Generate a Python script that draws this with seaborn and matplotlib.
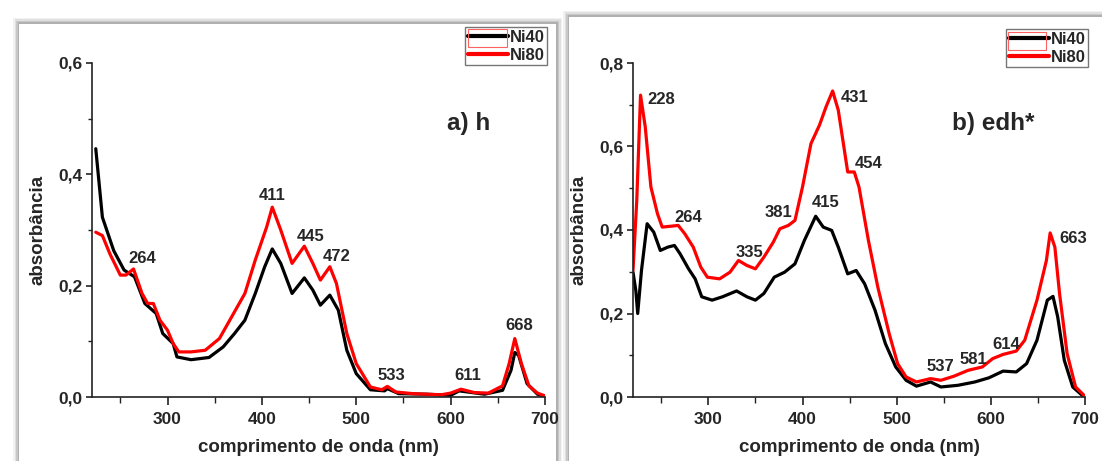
import numpy as np
import pandas as pd
import matplotlib
matplotlib.use("Agg")
import matplotlib.pyplot as plt
from matplotlib.patches import Rectangle
from matplotlib.ticker import MultipleLocator, FuncFormatter
import seaborn as sns

# ---------------- data: panel a) h ----------------
a_ni40_x = [224, 231, 243, 254, 265, 276, 288, 295, 306, 310, 325, 344, 359, 371, 382, 393, 403, 411,
            420, 432, 445, 454, 462, 472, 481, 490, 500, 515, 530, 533, 545, 575, 600, 609, 636, 655,
            664, 668, 672, 681, 692, 700]
a_ni40_y = [0.446, 0.323, 0.263, 0.228, 0.216, 0.168, 0.150, 0.114, 0.096, 0.072, 0.067, 0.071, 0.090,
            0.114, 0.138, 0.186, 0.234, 0.266, 0.240, 0.186, 0.214, 0.192, 0.165, 0.183, 0.156, 0.084,
            0.042, 0.013, 0.011, 0.015, 0.006, 0.005, 0.003, 0.011, 0.005, 0.012, 0.048, 0.080, 0.075,
            0.024, 0.005, 0.001]
a_ni80_x = [224, 231, 239, 250, 256, 264, 273, 279, 285, 292, 300, 306, 312, 325, 340, 355, 371, 382,
            393, 405, 411, 420, 432, 445, 454, 462, 472, 479, 490, 500, 515, 527, 533, 542, 560, 590,
            600, 611, 625, 640, 655, 662, 668, 675, 683, 692, 700]
a_ni80_y = [0.296, 0.290, 0.257, 0.219, 0.219, 0.230, 0.186, 0.168, 0.168, 0.138, 0.120, 0.096, 0.081,
            0.081, 0.084, 0.105, 0.153, 0.186, 0.246, 0.305, 0.341, 0.300, 0.240, 0.271, 0.240, 0.210,
            0.234, 0.204, 0.114, 0.060, 0.018, 0.013, 0.019, 0.009, 0.006, 0.004, 0.007, 0.014, 0.008,
            0.007, 0.020, 0.060, 0.105, 0.060, 0.020, 0.007, 0.002]

# ---------------- data: panel b) edh* ----------------
b_ni40_x = [220, 223, 225, 229, 235, 242, 249, 257, 264, 270, 279, 286, 293, 304, 315, 330, 341, 350,
            359, 370, 381, 392, 402, 414, 422, 431, 438, 448, 457, 466, 477, 488, 499, 510, 521, 536,
            547, 565, 583, 598, 613, 627, 638, 649, 660, 666, 671, 678, 687, 697]
b_ni40_y = [0.299, 0.255, 0.200, 0.303, 0.415, 0.395, 0.351, 0.359, 0.363, 0.343, 0.307, 0.283, 0.240,
            0.232, 0.240, 0.254, 0.240, 0.232, 0.248, 0.287, 0.299, 0.319, 0.375, 0.433, 0.407, 0.399,
            0.359, 0.295, 0.303, 0.271, 0.208, 0.128, 0.072, 0.040, 0.026, 0.036, 0.024, 0.028, 0.036,
            0.046, 0.062, 0.060, 0.080, 0.136, 0.232, 0.241, 0.192, 0.088, 0.024, 0.004]
b_ni80_x = [220, 224, 228, 233, 239, 246, 251, 260, 268, 275, 284, 292, 299, 312, 323, 332, 341, 350,
            359, 369, 376, 385, 392, 400, 409, 418, 425, 432, 438, 448, 455, 460, 470, 480, 492, 501,
            510, 521, 536, 547, 561, 576, 591, 602, 613, 627, 636, 649, 659, 663, 668, 673, 681, 690, 699]
b_ni80_y = [0.303, 0.471, 0.723, 0.647, 0.503, 0.439, 0.407, 0.409, 0.411, 0.391, 0.359, 0.311, 0.287,
            0.283, 0.299, 0.327, 0.315, 0.307, 0.335, 0.371, 0.403, 0.411, 0.423, 0.503, 0.607, 0.651,
            0.695, 0.733, 0.687, 0.539, 0.539, 0.503, 0.375, 0.263, 0.152, 0.080, 0.048, 0.036, 0.044,
            0.040, 0.050, 0.064, 0.072, 0.092, 0.102, 0.110, 0.136, 0.232, 0.327, 0.393, 0.359, 0.247,
            0.104, 0.024, 0.004]

series_names = ["Ni40", "Ni80"]
series_colors = ["#000000", "#ff0000"]

a_peak_labels = ["264", "411", "445", "472", "533", "611", "668"]
a_peak_pos = [(273, 0.249), (411, 0.362), (452, 0.289), (479, 0.252), (537, 0.039), (618, 0.038), (673, 0.129)]
b_peak_labels = ["228", "264", "335", "381", "415", "431", "454", "537", "581", "614", "663"]
b_peak_pos = [(250, 0.712), (279, 0.430), (344, 0.347), (374, 0.443), (425, 0.467), (455, 0.717),
              (470, 0.559), (546, 0.072), (582, 0.089), (616, 0.125), (687, 0.379)]

x_label = "comprimento de onda (nm)"
y_label = "absorbância"

sns.set_style("ticks")
plt.rcParams['font.family'] = ['Liberation Sans', 'DejaVu Sans']
plt.rcParams['font.weight'] = 'bold'

fig = plt.figure(figsize=(11.02, 4.61), dpi=100)
fig.patch.set_facecolor("white")

W, H = 1102, 461

def frame(x0, y0, x1, y1):
    for i, a in enumerate([0.10, 0.16, 0.24, 0.32]):
        d = 6 - i * 1.5
        fig.patches.append(Rectangle(((x0 - d) / W, 1 - (y0 - d) / H - (y1 - y0 + d) / H),
                                     (x1 - x0 + 2 * d) / W, (y1 - y0 + d) / H,
                                     transform=fig.transFigure, facecolor="#808080",
                                     alpha=a, edgecolor="none", zorder=-3))
    fig.patches.append(Rectangle((x0 / W, 1 - y1 / H), (x1 - x0) / W, (y1 - y0) / H,
                                 transform=fig.transFigure, facecolor="white",
                                 edgecolor="none", zorder=-2))

frame(19, 24, 556, 470)
frame(569, 17, 1110, 470)

ax1 = fig.add_axes([92 / W, 1 - 397 / H, (545 - 92) / W, (397 - 63) / H])
ax2 = fig.add_axes([633 / W, 1 - 397 / H, (1085 - 633) / W, (397 - 63) / H])

def draw(ax, xs, ys, ylim, labels, positions, title, title_pos, leg_anchor, red_box):
    for (x, y), name, col in zip(zip(xs, ys), series_names, series_colors):
        df = pd.DataFrame({"x": x, "y": y})
        sns.lineplot(data=df, x="x", y="y", ax=ax, color=col, linewidth=2.3, label=name)
    ax.set_xlim(220, 700)
    ax.set_ylim(*ylim)
    ax.patch.set_alpha(0)
    sns.despine(ax=ax)
    for s in ["left", "bottom"]:
        ax.spines[s].set_linewidth(1.2)
        ax.spines[s].set_color("#222222")
    ax.xaxis.set_major_locator(MultipleLocator(100))
    ax.xaxis.set_minor_locator(MultipleLocator(50))
    ax.yaxis.set_major_locator(MultipleLocator(0.2))
    ax.yaxis.set_minor_locator(MultipleLocator(0.1))
    ax.yaxis.set_major_formatter(FuncFormatter(lambda v, p: f"{v:.1f}".replace(".", ",")))
    ax.tick_params(axis="x", which="major", length=5.5, width=1.2, pad=5, labelsize=12.5, color="#222222")
    ax.tick_params(axis="y", which="major", length=4.5, width=1.2, pad=2.5, labelsize=12.5, color="#222222")
    ax.tick_params(axis="x", which="minor", length=4.5, width=1.0, color="#222222")
    ax.tick_params(axis="y", which="minor", length=3, width=1.0, color="#222222")
    for t in ax.get_xticklabels() + ax.get_yticklabels():
        t.set_fontweight("bold")
    ax.set_xlabel(x_label, fontsize=13.5, fontweight="bold", labelpad=9)
    ax.set_ylabel(y_label, fontsize=13.5, fontweight="bold", labelpad=8)
    for lab, (px, py) in zip(labels, positions):
        ax.text(px, py, lab, ha="center", va="center", fontsize=12, fontweight="bold")
    ax.text(title_pos[0], title_pos[1], title, ha="center", va="center", fontsize=17.5, fontweight="bold")
    leg = ax.legend(loc="upper right", bbox_to_anchor=leg_anchor, bbox_transform=fig.transFigure,
                    frameon=True, fancybox=False, fontsize=12, handlelength=2.4,
                    handletextpad=0.1, borderpad=0.15, labelspacing=0.2, borderaxespad=0)
    leg.get_frame().set_edgecolor("#555555")
    leg.get_frame().set_linewidth(1.0)
    for t in leg.get_texts():
        t.set_fontweight("bold")
    for l in leg.get_lines():
        l.set_linewidth(3)
    bx0, by0, bx1, by1 = red_box
    fig.patches.append(Rectangle((bx0 / W, 1 - by1 / H), (bx1 - bx0) / W, (by1 - by0) / H,
                                 transform=fig.transFigure, facecolor="none",
                                 edgecolor="#ff6060", linewidth=0.8, zorder=10))

draw(ax1, [a_ni40_x, a_ni80_x], [a_ni40_y, a_ni80_y], (0, 0.6), a_peak_labels, a_peak_pos,
     "a) h", (619, 0.491), (547 / W, 1 - 27 / H), (468, 29, 507, 47))
draw(ax2, [b_ni40_x, b_ni80_x], [b_ni40_y, b_ni80_y], (0, 0.8), b_peak_labels, b_peak_pos,
     "b) edh*", (603, 0.656), (1088 / W, 1 - 29 / H), (1008, 32, 1046, 50))

fig.savefig("out.png", dpi=100)
